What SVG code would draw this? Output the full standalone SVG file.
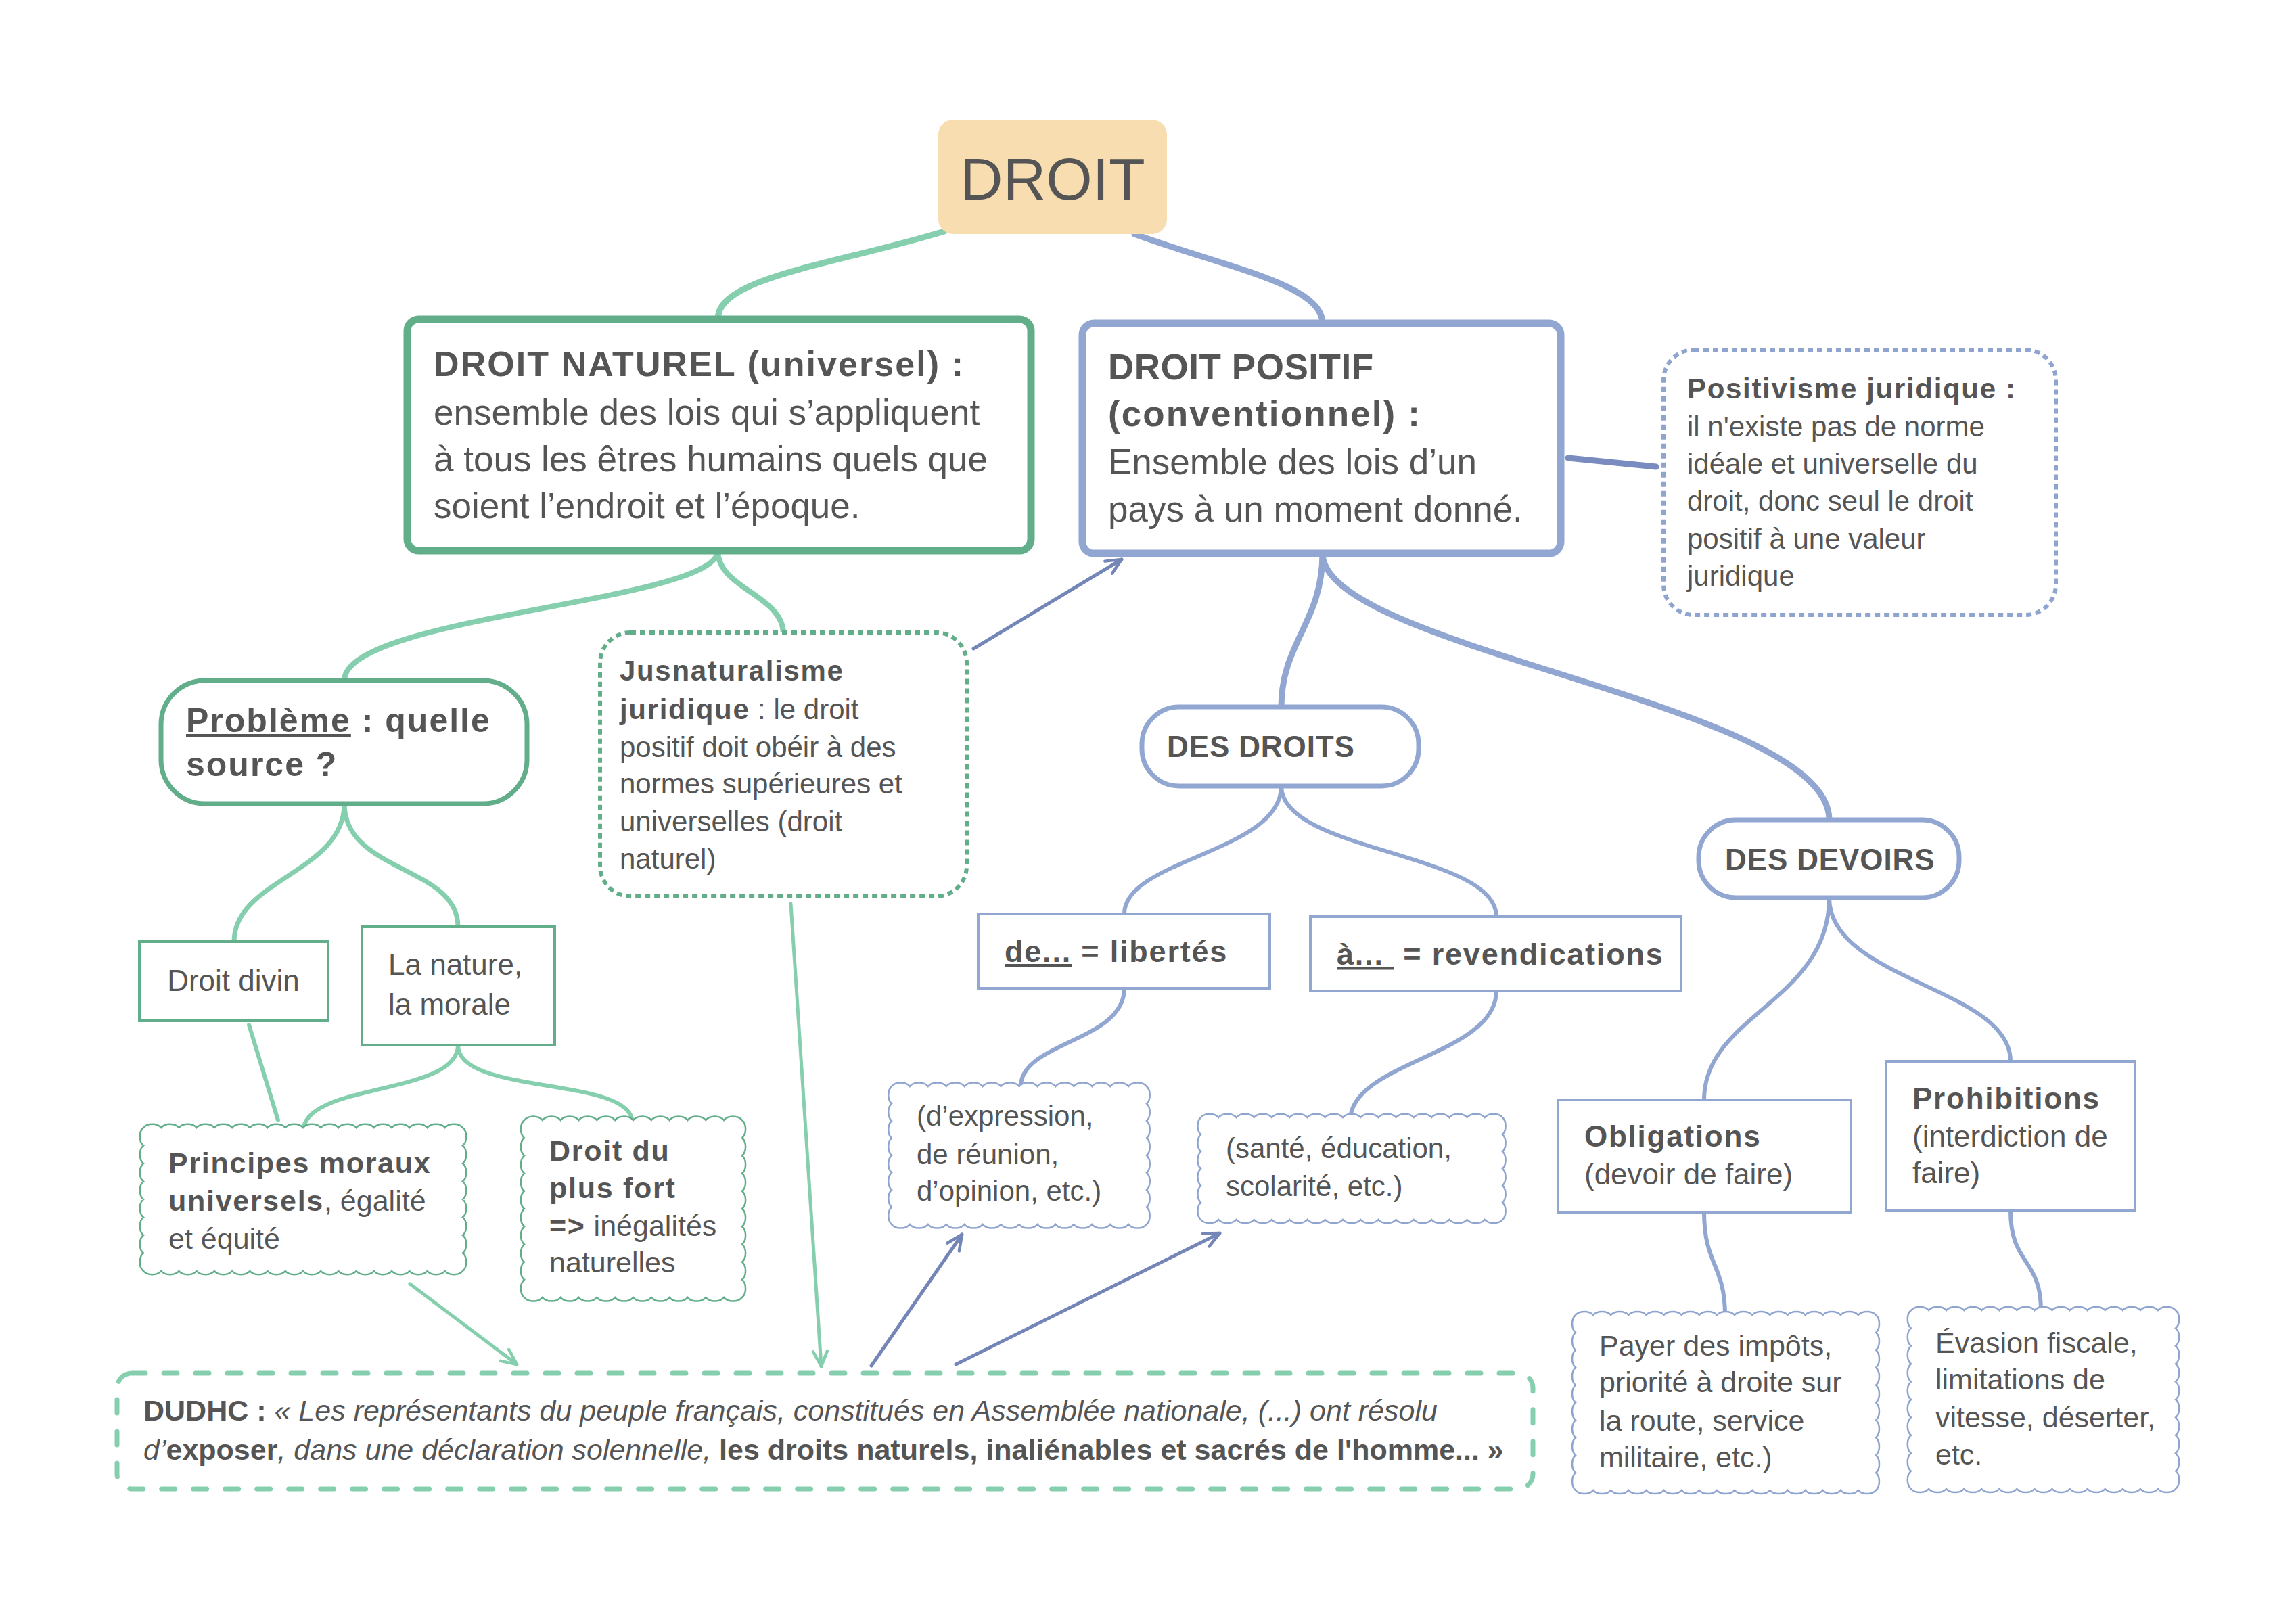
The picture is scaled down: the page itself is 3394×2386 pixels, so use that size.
<svg xmlns="http://www.w3.org/2000/svg" width="3394" height="2386" viewBox="0 0 3394 2386">
<defs>
<style>
.t{font-family:"Liberation Sans",Arial,sans-serif;fill:#555555}
.b{font-weight:bold;letter-spacing:0.04em}
.i{font-style:italic}
.u{text-decoration:underline}
.cg{fill:none;stroke:#86CFAE;stroke-linecap:round}
.cb{fill:none;stroke:#92A6D2;stroke-linecap:round}
.ag{fill:none;stroke:#86CFAE;stroke-width:5;stroke-linecap:round;marker-end:url(#mg)}
.ab{fill:none;stroke:#7486B8;stroke-width:5;stroke-linecap:round;marker-end:url(#mb)}
.ng{fill:#fff;stroke:#62AD8A}
.nb{fill:#fff;stroke:#92A6D2}
.cloudg{fill:#fff;stroke:#62AD8A;stroke-width:2.5}
.cloudb{fill:#fff;stroke:#8FA5D0;stroke-width:2.5}
.db{font-weight:bold}
</style>
<marker id="mg" viewBox="0 0 20 20" refX="18" refY="10" markerWidth="30" markerHeight="30" markerUnits="userSpaceOnUse" orient="auto"><path d="M3,3 L18,10 L3,17" fill="none" stroke="#86CFAE" stroke-width="3" stroke-linecap="round" stroke-linejoin="round"/></marker>
<marker id="mb" viewBox="0 0 20 20" refX="18" refY="10" markerWidth="30" markerHeight="30" markerUnits="userSpaceOnUse" orient="auto"><path d="M3,3 L18,10 L3,17" fill="none" stroke="#7486B8" stroke-width="3" stroke-linecap="round" stroke-linejoin="round"/></marker>
</defs>
<rect width="3394" height="2386" fill="#ffffff"/>

<g id="connectors">
<path class="cg" stroke-width="9" d="M1396,342 C1230,392 1061,410 1061,472"/>
<path class="cg" stroke-width="8" d="M1061,814 C1061,890 509,910 509,1006"/>
<path class="cg" stroke-width="8" d="M1061,814 C1061,870 1158,880 1158,937"/>
<path class="cg" stroke-width="7" d="M509,1188 C509,1290 346,1300 346,1392"/>
<path class="cg" stroke-width="7" d="M509,1188 C509,1290 677,1280 677,1370"/>
<path class="cg" stroke-width="6" d="M368,1515 L411,1656"/>
<path class="cg" stroke-width="6" d="M677,1545 C677,1620 448,1600 448,1673"/>
<path class="cg" stroke-width="6" d="M677,1545 C677,1620 935,1590 935,1660"/>
<path class="cb" stroke-width="9" d="M1677,346 C1810,395 1955,420 1955,478"/>
<path class="cb" stroke-width="9" d="M1955,818 C1955,920 1894,950 1894,1045"/>
<path class="cb" stroke-width="9" d="M1955,818 C1955,960 2704,1040 2704,1212"/>
<path class="cb" stroke-width="6" d="M1894,1162 C1894,1260 1662,1270 1662,1351"/>
<path class="cb" stroke-width="6" d="M1894,1162 C1894,1260 2212,1260 2212,1355"/>
<path class="cb" stroke-width="6" d="M1662,1461 C1662,1540 1509,1540 1509,1606"/>
<path class="cb" stroke-width="6" d="M2212,1465 C2212,1560 1996,1570 1996,1656"/>
<path class="cb" stroke-width="6" d="M2704,1327 C2704,1480 2519,1500 2519,1626"/>
<path class="cb" stroke-width="6" d="M2704,1327 C2704,1450 2972,1460 2972,1569"/>
<path class="cb" stroke-width="6" d="M2519,1792 C2519,1870 2550,1870 2550,1944"/>
<path class="cb" stroke-width="6" d="M2972,1790 C2972,1870 3017,1860 3017,1937"/>
<path fill="none" stroke="#7A8CBF" stroke-width="9" stroke-linecap="round" d="M2318,677 L2448,690"/>
<path class="ab" d="M1439,959 L1658,827"/>
<path class="ag" d="M1169,1336 L1214,2020"/>
<path class="ag" d="M606,1898 L764,2017"/>
<path class="ab" d="M1288,2019 L1422,1825"/>
<path class="ab" d="M1413,2017 L1803,1823"/>
</g>

<g id="droit">
<rect x="1387" y="177" width="338" height="169" rx="22" fill="#F8DDB0"/>
<text class="t" x="1556" y="295" font-size="88" text-anchor="middle">DROIT</text>
</g>

<g id="droit-naturel">
<rect class="ng" x="602" y="472" width="922" height="342" rx="17" stroke-width="11"/>
<text class="t" font-size="53"><tspan x="641" y="556" class="b" font-size="52">DROIT NATUREL (universel) :</tspan><tspan x="641" y="628">ensemble des lois qui s’appliquent</tspan><tspan x="641" y="697">à tous les êtres humains quels que</tspan><tspan x="641" y="766">soient l’endroit et l’époque.</tspan></text>
</g>

<g id="droit-positif">
<rect class="nb" x="1600" y="478" width="707" height="340" rx="17" stroke-width="11"/>
<text class="t" font-size="53"><tspan x="1638" y="561" class="b" style="letter-spacing:0.01em">DROIT POSITIF</tspan><tspan x="1638" y="630" class="b">(conventionnel) :</tspan><tspan x="1638" y="701">Ensemble des lois d’un</tspan><tspan x="1638" y="771">pays à un moment donné.</tspan></text>
</g>

<g id="positivisme">
<rect x="2459" y="517" width="580" height="392" rx="45" fill="#fff" stroke="#8FA5D0" stroke-width="6" stroke-dasharray="8 6"/>
<text class="t" font-size="42"><tspan x="2494" y="589" class="b">Positivisme juridique :</tspan><tspan x="2494" y="645">il n'existe pas de norme</tspan><tspan x="2494" y="700">idéale et universelle du</tspan><tspan x="2494" y="755">droit, donc seul le droit</tspan><tspan x="2494" y="811">positif à une valeur</tspan><tspan x="2494" y="866">juridique</tspan></text>
</g>

<g id="probleme">
<rect class="ng" x="238" y="1006" width="541" height="182" rx="65" stroke-width="7"/>
<text class="t b" font-size="50"><tspan x="275" y="1082"><tspan class="u">Problème</tspan> : quelle</tspan><tspan x="275" y="1147">source ?</tspan></text>
</g>

<g id="jusnaturalisme">
<rect x="887" y="935" width="542" height="390" rx="45" fill="#fff" stroke="#62AD8A" stroke-width="6" stroke-dasharray="8 6"/>
<text class="t" font-size="42"><tspan x="916" y="1006" class="b">Jusnaturalisme</tspan><tspan x="916" y="1063"><tspan class="b">juridique</tspan> : le droit</tspan><tspan x="916" y="1119">positif doit obéir à des</tspan><tspan x="916" y="1173">normes supérieures et</tspan><tspan x="916" y="1229">universelles (droit</tspan><tspan x="916" y="1284">naturel)</tspan></text>
</g>

<g id="droit-divin">
<rect class="ng" x="206" y="1392" width="279" height="117" stroke-width="4"/>
<text class="t" x="345" y="1465" font-size="44" text-anchor="middle">Droit divin</text>
</g>

<g id="nature-morale">
<rect class="ng" x="535" y="1370" width="285" height="175" stroke-width="4"/>
<text class="t" font-size="44"><tspan x="574" y="1441">La nature,</tspan><tspan x="574" y="1500">la morale</tspan></text>
</g>

<g id="principes">
<path class="cloudg" d="M212,1667 a15 10 0 0 1 26.22 0 a15 10 0 0 1 26.22 0 a15 10 0 0 1 26.22 0 a15 10 0 0 1 26.22 0 a15 10 0 0 1 26.22 0 a15 10 0 0 1 26.22 0 a15 10 0 0 1 26.22 0 a15 10 0 0 1 26.22 0 a15 10 0 0 1 26.22 0 a15 10 0 0 1 26.22 0 a15 10 0 0 1 26.22 0 a15 10 0 0 1 26.22 0 a15 10 0 0 1 26.22 0 a15 10 0 0 1 26.22 0 a15 10 0 0 1 26.22 0 a15 10 0 0 1 26.22 0 a15 10 0 0 1 26.22 0 a15 10 0 0 1 26.22 0 a10 15 0 0 1 0 26.5 a10 15 0 0 1 0 26.5 a10 15 0 0 1 0 26.5 a10 15 0 0 1 0 26.5 a10 15 0 0 1 0 26.5 a10 15 0 0 1 0 26.5 a10 15 0 0 1 0 26.5 a10 15 0 0 1 0 26.5 a15 10 0 0 1 -26.22 0 a15 10 0 0 1 -26.22 0 a15 10 0 0 1 -26.22 0 a15 10 0 0 1 -26.22 0 a15 10 0 0 1 -26.22 0 a15 10 0 0 1 -26.22 0 a15 10 0 0 1 -26.22 0 a15 10 0 0 1 -26.22 0 a15 10 0 0 1 -26.22 0 a15 10 0 0 1 -26.22 0 a15 10 0 0 1 -26.22 0 a15 10 0 0 1 -26.22 0 a15 10 0 0 1 -26.22 0 a15 10 0 0 1 -26.22 0 a15 10 0 0 1 -26.22 0 a15 10 0 0 1 -26.22 0 a15 10 0 0 1 -26.22 0 a15 10 0 0 1 -26.22 0 a10 15 0 0 1 0 -26.5 a10 15 0 0 1 0 -26.5 a10 15 0 0 1 0 -26.5 a10 15 0 0 1 0 -26.5 a10 15 0 0 1 0 -26.5 a10 15 0 0 1 0 -26.5 a10 15 0 0 1 0 -26.5 a10 15 0 0 1 0 -26.5 Z"/>
<text class="t" font-size="43"><tspan x="249" y="1734" class="b">Principes moraux</tspan><tspan x="249" y="1790"><tspan class="b">universels</tspan>, égalité</tspan><tspan x="249" y="1846">et équité</tspan></text>
</g>

<g id="plus-fort">
<path class="cloudg" d="M775,1656 a15 10 0 0 1 26.83 0 a15 10 0 0 1 26.83 0 a15 10 0 0 1 26.83 0 a15 10 0 0 1 26.83 0 a15 10 0 0 1 26.83 0 a15 10 0 0 1 26.83 0 a15 10 0 0 1 26.83 0 a15 10 0 0 1 26.83 0 a15 10 0 0 1 26.83 0 a15 10 0 0 1 26.83 0 a15 10 0 0 1 26.83 0 a15 10 0 0 1 26.83 0 a10 15 0 0 1 0 26.2 a10 15 0 0 1 0 26.2 a10 15 0 0 1 0 26.2 a10 15 0 0 1 0 26.2 a10 15 0 0 1 0 26.2 a10 15 0 0 1 0 26.2 a10 15 0 0 1 0 26.2 a10 15 0 0 1 0 26.2 a10 15 0 0 1 0 26.2 a10 15 0 0 1 0 26.2 a15 10 0 0 1 -26.83 0 a15 10 0 0 1 -26.83 0 a15 10 0 0 1 -26.83 0 a15 10 0 0 1 -26.83 0 a15 10 0 0 1 -26.83 0 a15 10 0 0 1 -26.83 0 a15 10 0 0 1 -26.83 0 a15 10 0 0 1 -26.83 0 a15 10 0 0 1 -26.83 0 a15 10 0 0 1 -26.83 0 a15 10 0 0 1 -26.83 0 a15 10 0 0 1 -26.83 0 a10 15 0 0 1 0 -26.2 a10 15 0 0 1 0 -26.2 a10 15 0 0 1 0 -26.2 a10 15 0 0 1 0 -26.2 a10 15 0 0 1 0 -26.2 a10 15 0 0 1 0 -26.2 a10 15 0 0 1 0 -26.2 a10 15 0 0 1 0 -26.2 a10 15 0 0 1 0 -26.2 a10 15 0 0 1 0 -26.2 Z"/>
<text class="t" font-size="43"><tspan x="812" y="1716" class="b">Droit du</tspan><tspan x="812" y="1771" class="b">plus fort</tspan><tspan x="812" y="1827"><tspan class="b">=&gt;</tspan> inégalités</tspan><tspan x="812" y="1881">naturelles</tspan></text>
</g>

<g id="dudhc">
<rect x="173" y="2030" width="2093" height="171" rx="22" fill="#fff" stroke="#86CFAE" stroke-width="7" stroke-dasharray="20 27" stroke-linecap="round"/>
<text class="t" font-size="43" x="212" y="2100"><tspan class="db">DUDHC :</tspan><tspan class="i"> « Les représentants du peuple français, constitués en Assemblée nationale, (...) ont résolu</tspan></text>
<text class="t" font-size="43" x="212" y="2158"><tspan class="i">d’</tspan><tspan class="db">exposer</tspan><tspan class="i">, dans une déclaration solennelle, </tspan><tspan class="db">les droits naturels, inaliénables et sacrés de l'homme... »</tspan></text>
</g>

<g id="des-droits">
<rect class="nb" x="1688" y="1045" width="409" height="117" rx="55" stroke-width="7"/>
<text class="t b" x="1725" y="1119" font-size="44" style="letter-spacing:0.02em">DES DROITS</text>
</g>

<g id="des-devoirs">
<rect class="nb" x="2511" y="1212" width="385" height="115" rx="55" stroke-width="7"/>
<text class="t b" x="2550" y="1286" font-size="44" style="letter-spacing:0.02em">DES DEVOIRS</text>
</g>

<g id="libertes">
<rect class="nb" x="1446" y="1351" width="431" height="110" stroke-width="4"/>
<text class="t b" x="1485" y="1422" font-size="45"><tspan class="u">de...</tspan> = libertés</text>
</g>

<g id="revendications">
<rect class="nb" x="1937" y="1355" width="548" height="110" stroke-width="4"/>
<text class="t b" x="1976" y="1426" font-size="45" style="white-space:pre"><tspan class="u">à... </tspan> = revendications</text>
</g>

<g id="expression">
<path class="cloudb" d="M1318,1606 a15 10 0 0 1 26.93 0 a15 10 0 0 1 26.93 0 a15 10 0 0 1 26.93 0 a15 10 0 0 1 26.93 0 a15 10 0 0 1 26.93 0 a15 10 0 0 1 26.93 0 a15 10 0 0 1 26.93 0 a15 10 0 0 1 26.93 0 a15 10 0 0 1 26.93 0 a15 10 0 0 1 26.93 0 a15 10 0 0 1 26.93 0 a15 10 0 0 1 26.93 0 a15 10 0 0 1 26.93 0 a15 10 0 0 1 26.93 0 a10 15 0 0 1 0 25.5 a10 15 0 0 1 0 25.5 a10 15 0 0 1 0 25.5 a10 15 0 0 1 0 25.5 a10 15 0 0 1 0 25.5 a10 15 0 0 1 0 25.5 a10 15 0 0 1 0 25.5 a10 15 0 0 1 0 25.5 a15 10 0 0 1 -26.93 0 a15 10 0 0 1 -26.93 0 a15 10 0 0 1 -26.93 0 a15 10 0 0 1 -26.93 0 a15 10 0 0 1 -26.93 0 a15 10 0 0 1 -26.93 0 a15 10 0 0 1 -26.93 0 a15 10 0 0 1 -26.93 0 a15 10 0 0 1 -26.93 0 a15 10 0 0 1 -26.93 0 a15 10 0 0 1 -26.93 0 a15 10 0 0 1 -26.93 0 a15 10 0 0 1 -26.93 0 a15 10 0 0 1 -26.93 0 a10 15 0 0 1 0 -25.5 a10 15 0 0 1 0 -25.5 a10 15 0 0 1 0 -25.5 a10 15 0 0 1 0 -25.5 a10 15 0 0 1 0 -25.5 a10 15 0 0 1 0 -25.5 a10 15 0 0 1 0 -25.5 a10 15 0 0 1 0 -25.5 Z"/>
<text class="t" font-size="42"><tspan x="1355" y="1664">(d’expression,</tspan><tspan x="1355" y="1721">de réunion,</tspan><tspan x="1355" y="1775">d’opinion, etc.)</tspan></text>
</g>

<g id="sante">
<path class="cloudb" d="M1775,1652 a15 10 0 0 1 26.24 0 a15 10 0 0 1 26.24 0 a15 10 0 0 1 26.24 0 a15 10 0 0 1 26.24 0 a15 10 0 0 1 26.24 0 a15 10 0 0 1 26.24 0 a15 10 0 0 1 26.24 0 a15 10 0 0 1 26.24 0 a15 10 0 0 1 26.24 0 a15 10 0 0 1 26.24 0 a15 10 0 0 1 26.24 0 a15 10 0 0 1 26.24 0 a15 10 0 0 1 26.24 0 a15 10 0 0 1 26.24 0 a15 10 0 0 1 26.24 0 a15 10 0 0 1 26.24 0 a15 10 0 0 1 26.24 0 a10 15 0 0 1 0 25.17 a10 15 0 0 1 0 25.17 a10 15 0 0 1 0 25.17 a10 15 0 0 1 0 25.17 a10 15 0 0 1 0 25.17 a10 15 0 0 1 0 25.17 a15 10 0 0 1 -26.24 0 a15 10 0 0 1 -26.24 0 a15 10 0 0 1 -26.24 0 a15 10 0 0 1 -26.24 0 a15 10 0 0 1 -26.24 0 a15 10 0 0 1 -26.24 0 a15 10 0 0 1 -26.24 0 a15 10 0 0 1 -26.24 0 a15 10 0 0 1 -26.24 0 a15 10 0 0 1 -26.24 0 a15 10 0 0 1 -26.24 0 a15 10 0 0 1 -26.24 0 a15 10 0 0 1 -26.24 0 a15 10 0 0 1 -26.24 0 a15 10 0 0 1 -26.24 0 a15 10 0 0 1 -26.24 0 a15 10 0 0 1 -26.24 0 a10 15 0 0 1 0 -25.17 a10 15 0 0 1 0 -25.17 a10 15 0 0 1 0 -25.17 a10 15 0 0 1 0 -25.17 a10 15 0 0 1 0 -25.17 a10 15 0 0 1 0 -25.17 Z"/>
<text class="t" font-size="42"><tspan x="1812" y="1712">(santé, éducation,</tspan><tspan x="1812" y="1768">scolarité, etc.)</tspan></text>
</g>

<g id="obligations">
<rect class="nb" x="2303" y="1626" width="433" height="166" stroke-width="4"/>
<text class="t" font-size="44"><tspan x="2342" y="1695" class="b">Obligations</tspan><tspan x="2342" y="1751">(devoir de faire)</tspan></text>
</g>

<g id="prohibitions">
<rect class="nb" x="2788" y="1569" width="368" height="221" stroke-width="4"/>
<text class="t" font-size="44"><tspan x="2827" y="1639" class="b">Prohibitions</tspan><tspan x="2827" y="1695">(interdiction de</tspan><tspan x="2827" y="1749">faire)</tspan></text>
</g>

<g id="payer">
<path class="cloudb" d="M2329,1944 a15 10 0 0 1 26.12 0 a15 10 0 0 1 26.12 0 a15 10 0 0 1 26.12 0 a15 10 0 0 1 26.12 0 a15 10 0 0 1 26.12 0 a15 10 0 0 1 26.12 0 a15 10 0 0 1 26.12 0 a15 10 0 0 1 26.12 0 a15 10 0 0 1 26.12 0 a15 10 0 0 1 26.12 0 a15 10 0 0 1 26.12 0 a15 10 0 0 1 26.12 0 a15 10 0 0 1 26.12 0 a15 10 0 0 1 26.12 0 a15 10 0 0 1 26.12 0 a15 10 0 0 1 26.12 0 a15 10 0 0 1 26.12 0 a10 15 0 0 1 0 25.9 a10 15 0 0 1 0 25.9 a10 15 0 0 1 0 25.9 a10 15 0 0 1 0 25.9 a10 15 0 0 1 0 25.9 a10 15 0 0 1 0 25.9 a10 15 0 0 1 0 25.9 a10 15 0 0 1 0 25.9 a10 15 0 0 1 0 25.9 a10 15 0 0 1 0 25.9 a15 10 0 0 1 -26.12 0 a15 10 0 0 1 -26.12 0 a15 10 0 0 1 -26.12 0 a15 10 0 0 1 -26.12 0 a15 10 0 0 1 -26.12 0 a15 10 0 0 1 -26.12 0 a15 10 0 0 1 -26.12 0 a15 10 0 0 1 -26.12 0 a15 10 0 0 1 -26.12 0 a15 10 0 0 1 -26.12 0 a15 10 0 0 1 -26.12 0 a15 10 0 0 1 -26.12 0 a15 10 0 0 1 -26.12 0 a15 10 0 0 1 -26.12 0 a15 10 0 0 1 -26.12 0 a15 10 0 0 1 -26.12 0 a15 10 0 0 1 -26.12 0 a10 15 0 0 1 0 -25.9 a10 15 0 0 1 0 -25.9 a10 15 0 0 1 0 -25.9 a10 15 0 0 1 0 -25.9 a10 15 0 0 1 0 -25.9 a10 15 0 0 1 0 -25.9 a10 15 0 0 1 0 -25.9 a10 15 0 0 1 0 -25.9 a10 15 0 0 1 0 -25.9 a10 15 0 0 1 0 -25.9 Z"/>
<text class="t" font-size="43"><tspan x="2364" y="2004">Payer des impôts,</tspan><tspan x="2364" y="2058">priorité à droite sur</tspan><tspan x="2364" y="2115">la route, service</tspan><tspan x="2364" y="2169">militaire, etc.)</tspan></text>
</g>

<g id="evasion">
<path class="cloudb" d="M2825,1937 a15 10 0 0 1 26.07 0 a15 10 0 0 1 26.07 0 a15 10 0 0 1 26.07 0 a15 10 0 0 1 26.07 0 a15 10 0 0 1 26.07 0 a15 10 0 0 1 26.07 0 a15 10 0 0 1 26.07 0 a15 10 0 0 1 26.07 0 a15 10 0 0 1 26.07 0 a15 10 0 0 1 26.07 0 a15 10 0 0 1 26.07 0 a15 10 0 0 1 26.07 0 a15 10 0 0 1 26.07 0 a15 10 0 0 1 26.07 0 a15 10 0 0 1 26.07 0 a10 15 0 0 1 0 26.4 a10 15 0 0 1 0 26.4 a10 15 0 0 1 0 26.4 a10 15 0 0 1 0 26.4 a10 15 0 0 1 0 26.4 a10 15 0 0 1 0 26.4 a10 15 0 0 1 0 26.4 a10 15 0 0 1 0 26.4 a10 15 0 0 1 0 26.4 a10 15 0 0 1 0 26.4 a15 10 0 0 1 -26.07 0 a15 10 0 0 1 -26.07 0 a15 10 0 0 1 -26.07 0 a15 10 0 0 1 -26.07 0 a15 10 0 0 1 -26.07 0 a15 10 0 0 1 -26.07 0 a15 10 0 0 1 -26.07 0 a15 10 0 0 1 -26.07 0 a15 10 0 0 1 -26.07 0 a15 10 0 0 1 -26.07 0 a15 10 0 0 1 -26.07 0 a15 10 0 0 1 -26.07 0 a15 10 0 0 1 -26.07 0 a15 10 0 0 1 -26.07 0 a15 10 0 0 1 -26.07 0 a10 15 0 0 1 0 -26.4 a10 15 0 0 1 0 -26.4 a10 15 0 0 1 0 -26.4 a10 15 0 0 1 0 -26.4 a10 15 0 0 1 0 -26.4 a10 15 0 0 1 0 -26.4 a10 15 0 0 1 0 -26.4 a10 15 0 0 1 0 -26.4 a10 15 0 0 1 0 -26.4 a10 15 0 0 1 0 -26.4 Z"/>
<text class="t" font-size="43"><tspan x="2861" y="2000">Évasion fiscale,</tspan><tspan x="2861" y="2054">limitations de</tspan><tspan x="2861" y="2110">vitesse, déserter,</tspan><tspan x="2861" y="2165">etc.</tspan></text>
</g>
</svg>
